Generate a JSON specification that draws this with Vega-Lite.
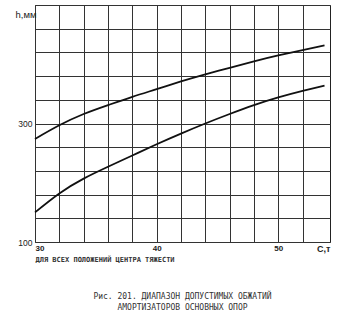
{
  "$schema": "https://vega.github.io/schema/vega-lite/v6.json",
  "width": 295,
  "height": 237,
  "autosize": {"type": "none"},
  "padding": {"left": 35, "top": 5, "right": 13, "bottom": 77},
  "background": "white",
  "config": {"view": {"stroke": "#222", "strokeWidth": 1}, "font": "Liberation Sans"},
  "title": {
    "text": ["Рис. 201. ДИАПАЗОН ДОПУСТИМЫХ ОБЖАТИЙ", "АМОРТИЗАТОРОВ ОСНОВНЫХ ОПОР"],
    "orient": "bottom",
    "anchor": "middle",
    "frame": "group",
    "offset": 31,
    "font": "DejaVu Sans Mono",
    "fontSize": 8,
    "fontWeight": "normal",
    "color": "#333",
    "lineHeight": 11
  },
  "data": {
    "values": [
      {"c": 30, "h": 274, "s": "upper"},
      {"c": 32, "h": 297, "s": "upper"},
      {"c": 34, "h": 316, "s": "upper"},
      {"c": 36, "h": 331, "s": "upper"},
      {"c": 38, "h": 345, "s": "upper"},
      {"c": 40, "h": 358, "s": "upper"},
      {"c": 42, "h": 371, "s": "upper"},
      {"c": 44, "h": 383, "s": "upper"},
      {"c": 46, "h": 394, "s": "upper"},
      {"c": 48, "h": 405, "s": "upper"},
      {"c": 50, "h": 415, "s": "upper"},
      {"c": 52, "h": 424, "s": "upper"},
      {"c": 53.8, "h": 432, "s": "upper"},
      {"c": 30, "h": 150, "s": "lower"},
      {"c": 32, "h": 182, "s": "lower"},
      {"c": 34, "h": 207, "s": "lower"},
      {"c": 36, "h": 227, "s": "lower"},
      {"c": 38, "h": 246, "s": "lower"},
      {"c": 40, "h": 265, "s": "lower"},
      {"c": 42, "h": 283, "s": "lower"},
      {"c": 44, "h": 300, "s": "lower"},
      {"c": 46, "h": 316, "s": "lower"},
      {"c": 48, "h": 331, "s": "lower"},
      {"c": 50, "h": 344, "s": "lower"},
      {"c": 52, "h": 355, "s": "lower"},
      {"c": 53.8, "h": 364, "s": "lower"}
    ]
  },
  "mark": {"type": "line", "interpolate": "natural", "stroke": "#111", "strokeWidth": 1.8},
  "encoding": {
    "x": {
      "field": "c",
      "type": "quantitative",
      "scale": {"domain": [30, 54.25], "nice": false, "zero": false},
      "axis": {
        "values": [30, 32, 34, 36, 38, 40, 42, 44, 46, 48, 50, 52, 53.7],
        "labelExpr": "datum.value == 53.7 ? 'C,т' : (datum.value % 10 == 0 ? datum.label : '')",
        "gridColor": "#333",
        "gridOpacity": {"condition": {"test": "datum.value > 53", "value": 0}, "value": 1},
        "ticks": false,
        "domain": false,
        "labelPadding": 2,
        "labelBaseline": "top",
        "labelFont": "Liberation Sans",
        "labelFontWeight": "bold",
        "labelFontSize": {"condition": {"test": "datum.value > 53", "value": 9}, "value": 8},
        "labelColor": "#222",
        "labelFlush": true,
        "labelOverlap": false,
        "title": "ДЛЯ ВСЕХ ПОЛОЖЕНИЙ ЦЕНТРА ТЯЖЕСТИ",
        "titleAnchor": "start",
        "titleAlign": "left",
        "titleX": 0,
        "titleY": 19,
        "titleBaseline": "alphabetic",
        "titleFont": "DejaVu Sans Mono",
        "titleFontSize": 7,
        "titleFontWeight": "bold",
        "titleColor": "#333"
      }
    },
    "y": {
      "field": "h",
      "type": "quantitative",
      "scale": {"domain": [100, 500], "nice": false, "zero": false},
      "axis": {
        "values": [100, 140, 180, 220, 260, 300, 340, 380, 420, 460, 500],
        "labelExpr": "datum.value == 100 || datum.value == 300 ? datum.label : ''",
        "gridColor": "#333",
        "ticks": false,
        "domain": false,
        "labelPadding": 3,
        "labelFont": "Liberation Sans",
        "labelFontSize": 8.5,
        "labelColor": "#222",
        "title": "h,мм",
        "titleAngle": 0,
        "titleX": -20,
        "titleY": 12,
        "titleAlign": "left",
        "titleBaseline": "alphabetic",
        "titleFont": "Liberation Sans",
        "titleFontSize": 9.5,
        "titleFontWeight": "normal",
        "titleColor": "#222"
      }
    },
    "detail": {"field": "s", "type": "nominal"}
  }
}
